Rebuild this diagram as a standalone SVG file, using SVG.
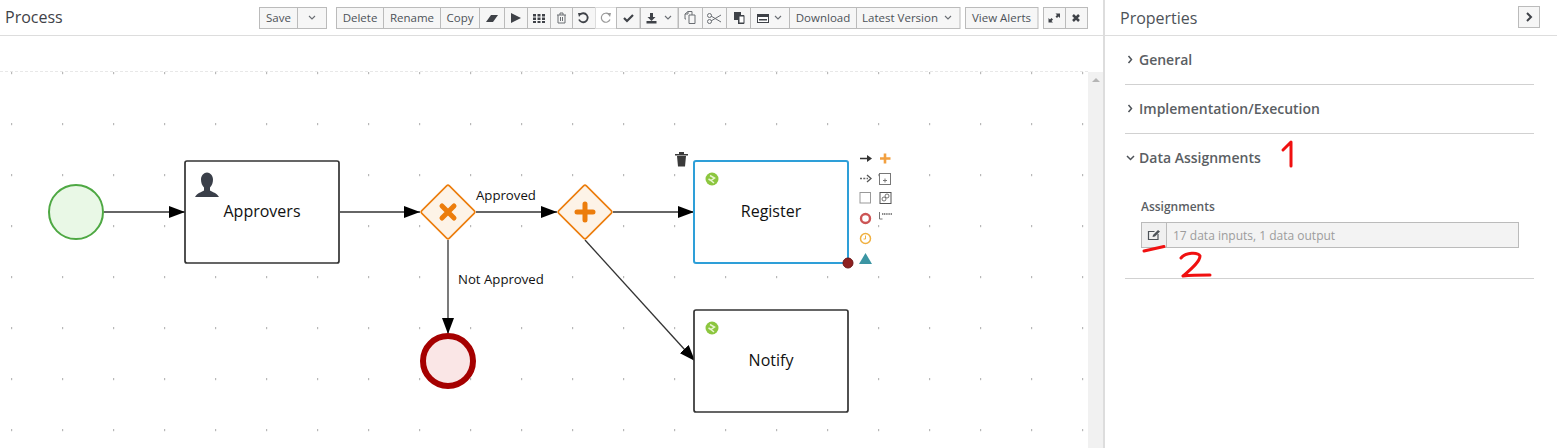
<svg xmlns="http://www.w3.org/2000/svg" width="1557" height="448" viewBox="0 0 1557 448">
<style>
text{font-family:"Open Sans","Noto Sans","Liberation Sans",sans-serif}
.btn{fill:#f6f6f6;stroke:#bbbbbb;stroke-width:1}
.bt{font-size:11.5px;fill:#4d5258;text-anchor:middle}
.ic{fill:#3f4248;stroke:none}
.icl{fill:none;stroke:#6a6e73;stroke-width:1}
.sec{font-size:14px;fill:#5a5e63;font-weight:600}
.hr{stroke:#d1d1d1;stroke-width:1}
.conn{fill:none;stroke:#333;stroke-width:1.300}
.lab{font-size:13.200px;fill:#111}
.nt{font-size:16px;fill:#111;text-anchor:middle}
.task{fill:#fff;stroke:#333;stroke-width:1.700}
.red{fill:none;stroke:#f01010;stroke-width:3;stroke-linecap:round;stroke-linejoin:round}
.chev{fill:none;stroke:#6a6e73;stroke-width:1.100}
.chevd{fill:none;stroke:#4d5258;stroke-width:1.500}
</style>
<defs>
<marker id="arrow" markerUnits="userSpaceOnUse" markerWidth="17" markerHeight="12" refX="16" refY="6" orient="auto"><path d="M0 0L16 6L0 12Z" fill="#000"/></marker>
<g id="taskicon"><circle r="6.500" fill="#8cc63f"/><path d="M-2 -3.500L2.500 -1L-1 1.500L2 4M-3.500 0L-1 1.500" stroke="#e8f5d0" stroke-width="1.500" fill="none"/></g>
<pattern id="dots" x="11" y="21" width="51" height="51" patternUnits="userSpaceOnUse"><rect x="-1" y="0" width="2.200" height="2.200" fill="#b8b8b8"/></pattern>
</defs>
<rect width="1557" height="448" fill="#fff"/>
<g id="canvas">
<rect x="0" y="72" width="1088" height="376" fill="url(#dots)"/>
<line x1="0" y1="71.500" x2="1088" y2="71.500" stroke="#e8e8e8" stroke-dasharray="3 2"/>
<rect x="1088" y="72" width="15" height="376" fill="#f1f1f1"/>
<path d="M1092 82L1096 78L1100 82Z" fill="#b5b5b5"/>
</g>
<g id="header">
<text x="5" y="23" font-size="16" fill="#3f4248">Process</text>
<line x1="0" y1="35.500" x2="1557" y2="35.500" stroke="#dddddd"/>
<rect x="1103" y="0" width="2" height="448" fill="#dddddd"/>
</g>
<g id="toolbar">
<rect class="btn" x="259.500" y="7.500" width="38" height="21"/><text class="bt" x="278.500" y="22">Save</text>
<rect class="btn" x="297.500" y="7.500" width="29" height="21"/><path class="chev" d="M309 16l3 3l3-3"/>
<rect class="btn" x="336.500" y="7.500" width="47" height="21"/><text class="bt" x="360" y="22">Delete</text>
<rect class="btn" x="383.500" y="7.500" width="57" height="21"/><text class="bt" x="412" y="22">Rename</text>
<rect class="btn" x="440.500" y="7.500" width="39" height="21"/><text class="bt" x="460" y="22">Copy</text>
<rect class="btn" x="479.500" y="7.500" width="25" height="21"/><path class="ic" d="M486 22L491 15H498L493 22Z"/>
<rect class="btn" x="504.500" y="7.500" width="23" height="21"/><path class="ic" d="M511 13L521 18L511 23Z"/>
<rect class="btn" x="527.500" y="7.500" width="23" height="21"/><path class="ic" d="M533 14h3v2.500h-3zM537.500 14h3v2.500h-3zM542 14h3v2.500h-3zM533 17.500h3v2.500h-3zM537.500 17.500h3v2.500h-3zM542 17.500h3v2.500h-3zM533 21h3v2h-3zM537.500 21h3v2h-3zM542 21h3v2h-3z"/>
<rect class="btn" x="550.500" y="7.500" width="22" height="21"/><path class="icl" d="M557 15h9M558 15v8h7v-8M560 15v-2h3v2M560.500 17v4M562.500 17v4"/>
<rect class="btn" x="572.500" y="7.500" width="23" height="21"/><path fill="none" stroke="#3f4248" stroke-width="1.800" d="M580 14.500a4.500 4.500 0 1 1 -1 5"/><path class="ic" d="M578 13l4 0l-3 4z"/>
<rect x="595.500" y="7.500" width="21" height="21" fill="#fff" stroke="#dddddd"/><path fill="none" stroke="#999" stroke-width="1.200" d="M609 14.500a4.500 4.500 0 1 0 1 5"/><path d="M611 13l-4 0l3 4z" fill="#999"/>
<rect class="btn" x="616.500" y="7.500" width="23.500" height="21"/><path fill="none" stroke="#3f4248" stroke-width="2.200" d="M624 18l3 3l6-6"/>
<rect class="btn" x="640.500" y="7.500" width="37.500" height="21"/><path class="ic" d="M650 13h3v4h2.500l-4 4l-4-4h2.500zM646.500 21h10v2.500h-10z"/><path class="chev" d="M665 16l3 3l3-3"/>
<rect class="btn" x="678.500" y="7.500" width="24" height="21"/><path class="icl" d="M686 19h-1v-5l3-2.500h4v3.500M689 15h6v8.500h-6zM685 14h3v-2.500"/>
<rect class="btn" x="702.500" y="7.500" width="24" height="21"/><path class="icl" d="M711 16l10 6M711 21l10-6"/><circle class="icl" cx="709.500" cy="15.500" r="2"/><circle class="icl" cx="709.500" cy="21.500" r="2"/>
<rect class="btn" x="726.500" y="7.500" width="24" height="21"/><path class="ic" d="M734 12h7v3h3l0 9h-6v-4h-4z"/><rect x="739" y="16" width="5" height="7" fill="#fff" stroke="#3f4248"/>
<rect class="btn" x="750.500" y="7.500" width="39" height="21"/><rect x="757.500" y="14.500" width="11" height="8" fill="#fff" stroke="#3f4248"/><rect x="757" y="14" width="12" height="3" fill="#3f4248"/><rect x="759" y="19" width="8" height="1.500" fill="#3f4248"/><path class="chev" d="M775 16l3 3l3-3"/>
<rect class="btn" x="789.500" y="7.500" width="67" height="21"/><text class="bt" x="823" y="22">Download</text>
<rect class="btn" x="856.500" y="7.500" width="103.500" height="21"/><text class="bt" x="900" y="22">Latest Version</text><path class="chev" d="M945 16l3 3l3-3"/>
<rect class="btn" x="965.500" y="7.500" width="72.500" height="21"/><text class="bt" x="1001.500" y="22">View Alerts</text>
<rect class="btn" x="1043.500" y="7.500" width="22" height="21"/><path class="ic" d="M1055.500 13.500h4.500v4.500l-1.500-1.500l-1.500 1.500l-1.500-1.500l1.500-1.500zM1053 22.500h-4.500v-4.500l1.500 1.500l1.500-1.500l1.500 1.500l-1.500 1.500z"/>
<rect class="btn" x="1065.500" y="7.500" width="22" height="21"/><path fill="none" stroke="#3f4248" stroke-width="2.500" d="M1073 15l6 6M1079 15l-6 6"/>
</g>
<g id="connectors">
<path class="conn" d="M104 212H185" marker-end="url(#arrow)"/>
<path class="conn" d="M340 212H420" marker-end="url(#arrow)"/>
<path class="conn" d="M476 212H557" marker-end="url(#arrow)"/>
<path class="conn" d="M613 212H694" marker-end="url(#arrow)"/>
<path class="conn" d="M448 240V334" marker-end="url(#arrow)"/>
<path class="conn" d="M585 240L695 361" marker-end="url(#arrow)"/>
<text class="lab" x="476" y="200">Approved</text>
<text class="lab" x="458" y="284">Not Approved</text>
</g>
<g id="start"><circle cx="76" cy="212" r="27" fill="#e9f8e6" stroke="#4ea843" stroke-width="2"/></g>
<g id="approvers">
<rect class="task" x="185" y="161" width="154" height="102" rx="2"/>
<path fill="#3a3f49" d="M195 197c2-4 7-5 9-6.500v-3c-2-2-3-5-3-8c0-4 3-7 6-7s6 3 6 7c0 3-1 6-3 8v3c2 1.500 7 2.500 9 6.500z"/>
<text class="nt" x="262" y="217">Approvers</text>
</g>
<g id="xor">
<rect x="428.500" y="192.500" width="39" height="39" rx="2" transform="rotate(45 448 212)" fill="#fdf3e7" stroke="#ec7d0c" stroke-width="1.600"/>
<path d="M442 206L454 218M454 206L442 218" stroke="#ec7d0c" stroke-width="5" stroke-linecap="round"/>
</g>
<g id="and">
<rect x="565.500" y="192.500" width="39" height="39" rx="2" transform="rotate(45 585 212)" fill="#fdf3e7" stroke="#ec7d0c" stroke-width="1.600"/>
<path d="M585 204V220M577 212H593" stroke="#ec7d0c" stroke-width="5" stroke-linecap="round"/>
</g>
<g id="end"><circle cx="448" cy="361" r="25" fill="#fae6e6" stroke="#a50000" stroke-width="6"/></g>
<g id="register">
<rect x="694" y="161" width="154" height="102" rx="2" fill="#fff" stroke="#2e9fd8" stroke-width="2"/>
<use href="#taskicon" x="712" y="179"/>
<text class="nt" x="771" y="217">Register</text>
<circle cx="848" cy="263" r="5" fill="#8e2020" stroke="#6c1515"/>
</g>
<g id="notify">
<rect class="task" x="694" y="310" width="154" height="102" rx="2"/>
<use href="#taskicon" x="712" y="328"/>
<text class="nt" x="771" y="366">Notify</text>
</g>
<g id="palette">
<path d="M675 154h13v1.500h-13z M677 156h9l-1 10.500h-7z M679 152h5v2h-5z" fill="#3a3a3a"/>
<path d="M860 158.500h8" stroke="#333" stroke-width="1.500"/><path d="M867 155l5 3.500l-5 3.500z" fill="#333"/>
<path d="M885 153.500v10M880 158.500h10.500" stroke="#f2a040" stroke-width="2.600"/>
<path d="M860 178.500h8" stroke="#666" stroke-width="1.300" stroke-dasharray="2 1.300"/><path d="M867 175l4 3.500l-4 3.500" fill="none" stroke="#555" stroke-width="1.300"/>
<rect x="879.500" y="173.500" width="11" height="11" fill="#fff" stroke="#777"/><path d="M883 180.500h4M885 178.500v4" stroke="#777"/>
<rect x="860" y="192.500" width="10.500" height="10.500" fill="#fff" stroke="#999"/>
<rect x="880" y="192.500" width="11" height="11" fill="#fff" stroke="#555"/><circle cx="884" cy="199" r="2" fill="none" stroke="#555" stroke-width=".8"/><circle cx="887" cy="196" r="2" fill="none" stroke="#555" stroke-width=".8"/>
<circle cx="865.500" cy="218.500" r="4.500" fill="#fff" stroke="#cc5555" stroke-width="2.400"/>
<path d="M879.500 212v7h3" stroke="#777" stroke-width="1" fill="none"/><path d="M882 214h10" stroke="#888" stroke-width="2" stroke-dasharray="1.200 .6"/>
<circle cx="865.500" cy="238.500" r="5" fill="#fff" stroke="#f0b040" stroke-width="1.500"/><path d="M865.500 235.500v3.500h-2" fill="none" stroke="#f0b040"/>
<path d="M859 264L865.500 253L872 264Z" fill="#3b95a3"/>
</g>
<g id="properties">
<text x="1120" y="24" font-size="16" fill="#4d5258">Properties</text>
<rect class="btn" x="1518.500" y="6.500" width="21" height="21"/><path fill="none" stroke="#3f4248" stroke-width="2" d="M1527 13l4 4l-4 4"/>
<path class="chevd" d="M1128.500 56l3 3.500l-3 3.500"/><text class="sec" x="1139" y="65">General</text>
<line class="hr" x1="1125" y1="84.500" x2="1534" y2="84.500"/>
<path class="chevd" d="M1128.500 105l3 3.500l-3 3.500"/><text class="sec" x="1139" y="114">Implementation/Execution</text>
<line class="hr" x1="1125" y1="133.500" x2="1534" y2="133.500"/>
<path class="chevd" d="M1127 156l3.500 3.500l3.500-3.500"/><text class="sec" x="1139" y="163">Data Assignments</text>
<text x="1141" y="211" font-size="12" fill="#5a5e63" font-weight="600">Assignments</text>
<rect x="1141.500" y="222.500" width="377" height="25" fill="#f3f3f3" stroke="#bbb"/>
<rect x="1141.500" y="222.500" width="25" height="25" fill="#f0f0f0" stroke="#bbb"/>
<path d="M1158 234v5.500h-9.500v-8h6" fill="none" stroke="#4d5258" stroke-width="1.200"/><path d="M1153 235l5-5l2 1.500l-5 5l-2.500 .5z" fill="#4d5258"/>
<text x="1173" y="240" font-size="12" fill="#9c9c9c">17 data inputs, 1 data output</text>
<line class="hr" x1="1125" y1="278.500" x2="1534" y2="278.500"/>
</g>
<g id="annotations">
<path class="red" d="M1283 150L1291 142V166"/>
<path class="red" d="M1144 251L1164 246.500"/>
<path class="red" d="M1181 258C1186 252 1198 252 1200 256C1200 262 1190 270 1183 276C1192 275 1202 275 1210 275"/>
</g>
</svg>
